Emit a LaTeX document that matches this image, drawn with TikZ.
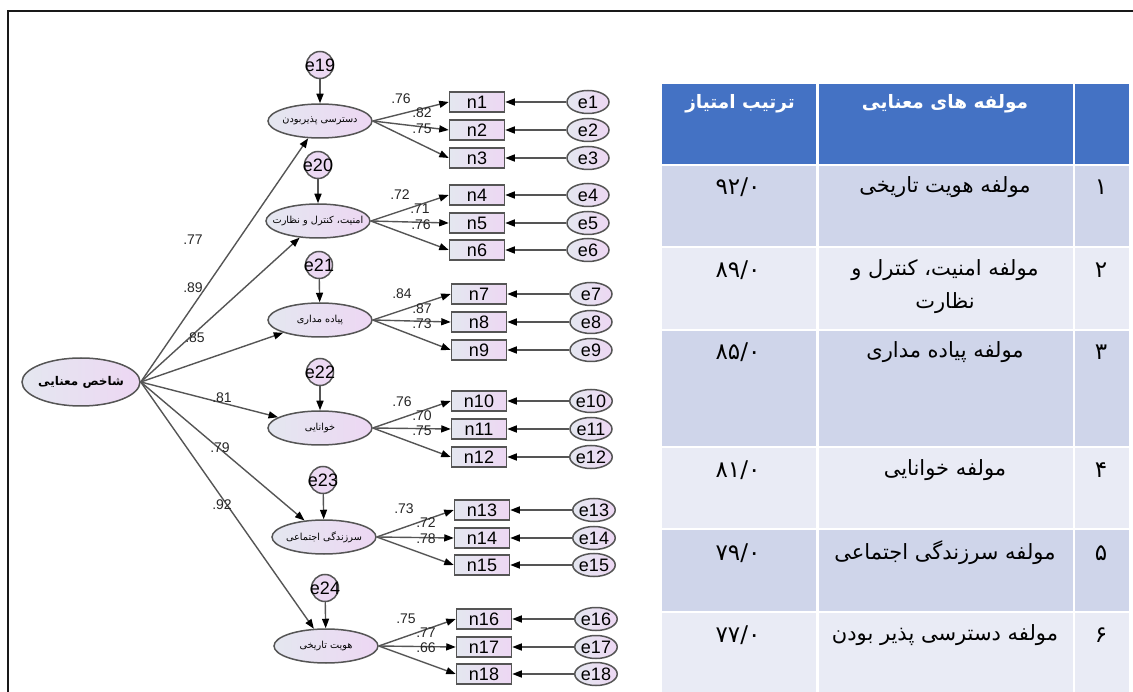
\documentclass[tikz,border=0pt]{standalone}
\usepackage{fontspec}
\setmainfont{Liberation Sans}
\newfontfamily\arabicfont[Script=Arabic]{DejaVu Sans}
\TeXXeTstate=1
\usetikzlibrary{arrows.meta, shapes.geometric}
\newcommand{\fa}[1]{\beginR#1\endR}
\definecolor{amosline}{HTML}{555555}
\definecolor{amosleft}{HTML}{E4E7F0}
\definecolor{amosright}{HTML}{EDD7F3}
\definecolor{headblue}{HTML}{4472C4}
\definecolor{rowdark}{HTML}{CFD5EA}
\definecolor{rowlight}{HTML}{E9EBF5}

\begin{document}
\begin{tikzpicture}[x=1pt, y=-1pt,
	amosfill/.style = {draw=amosline, line width=1.5pt, left color=amosleft, right color=amosright, inner sep=0pt},
	latent/.style = {amosfill, ellipse, minimum width=104pt, minimum height=34pt, font=\arabicfont\fontsize{9.7}{12}\selectfont},
	mainlatent/.style = {amosfill, ellipse, minimum width=118pt, minimum height=48pt, font=\arabicfont\bfseries\fontsize{12}{14}\selectfont},
	indicator/.style = {amosfill, rectangle, minimum width=55pt, minimum height=20pt, font=\fontsize{18}{18}\selectfont},
	errell/.style = {amosfill, ellipse, minimum width=42pt, minimum height=23pt, font=\fontsize{18}{18}\selectfont},
	errcirc/.style = {amosfill, circle, minimum size=27pt, left color=amosright!80!amosleft, font=\fontsize{18}{18}\selectfont},
	arrowline/.style = {draw=amosline, line width=1.4pt, -{Triangle[length=9.5pt, width=7pt, color=black]}},
	coef/.style = {text=black!85, font=\fontsize{14}{14}\selectfont, inner sep=0pt},
	tabtext/.style = {font=\arabicfont\fontsize{21}{33}\selectfont, align=center, inner sep=0pt},
	tabnum/.style = {font=\arabicfont\fontsize{23}{26}\selectfont, inner sep=0pt},
	tabhead/.style = {tabtext, text=white, font=\arabicfont\bfseries\fontsize{18.5}{24}\selectfont}
	]
	\useasboundingbox (0,0) rectangle (1133,692);
	\draw[black!90, line width=2.5pt] (8,692) -- (8,11) -- (1133,11);
	
	% table
	\fill[headblue] (662,84) rectangle (1129,165);
	\fill[rowdark] (662,165) rectangle (1129,247);
	\fill[rowlight] (662,247) rectangle (1129,330);
	\fill[rowdark] (662,330) rectangle (1129,447);
	\fill[rowlight] (662,447) rectangle (1129,529);
	\fill[rowdark] (662,529) rectangle (1129,612);
	\fill[rowlight] (662,612) rectangle (1129,692);
	\draw[white, line width=2.5pt] (817.5,84) -- (817.5,692) (1074,84) -- (1074,692);
	\draw[white, line width=2.5pt] (662,165) -- (1129,165) (662,247) -- (1129,247) (662,330) -- (1129,330)
		(662,447) -- (1129,447) (662,529) -- (1129,529) (662,612) -- (1129,612);
	
	\node[tabhead] (hscore) at (740,104) {\fa{ترتیب امتیاز}};
	\node[tabhead] (hname) at (945,104) {\fa{مولفه های معنایی}};
	\node[tabnum] (s1) at (738,187) {۹۲/۰};
	\node[tabtext] (f1) at (945,187) {\fa{مولفه هویت تاریخی}};
	\node[tabnum] (r1) at (1101,187) {۱};
	\node[tabnum] (s2) at (738,270) {۸۹/۰};
	\node[tabtext] (f2) at (945,287) {\fa{مولفه امنیت، کنترل و}\\\fa{نظارت}};
	\node[tabnum] (r2) at (1101,270) {۲};
	\node[tabnum] (s3) at (738,352) {۸۵/۰};
	\node[tabtext] (f3) at (945,352) {\fa{مولفه پیاده مداری}};
	\node[tabnum] (r3) at (1101,352) {۳};
	\node[tabnum] (s4) at (738,470) {۸۱/۰};
	\node[tabtext] (f4) at (945,470) {\fa{مولفه خوانایی}};
	\node[tabnum] (r4) at (1101,470) {۴};
	\node[tabnum] (s5) at (738,553) {۷۹/۰};
	\node[tabtext] (f5) at (945,553) {\fa{مولفه سرزندگی اجتماعی}};
	\node[tabnum] (r5) at (1101,553) {۵};
	\node[tabnum] (s6) at (738,635) {۷۷/۰};
	\node[tabtext] (f6) at (945,635) {\fa{مولفه دسترسی پذیر بودن}};
	\node[tabnum] (r6) at (1101,635) {۶};
	
	% model
	\node[mainlatent] (meaning) at (81,382) {\makebox[0pt]{\fa{شاخص معنایی}}};
	
	\node[latent] (access) at (320,121) {\makebox[0pt]{\fa{دسترسی پذیربودن}}};
	\node[latent] (security) at (318,221) {\makebox[0pt]{\fa{امنیت، کنترل و نظارت}}};
	\node[latent] (walk) at (320,320) {\makebox[0pt]{\fa{پیاده مداری}}};
	\node[latent] (legible) at (320,428) {\makebox[0pt]{\fa{خوانایی}}};
	\node[latent] (vital) at (324,537) {\makebox[0pt]{\fa{سرزندگی اجتماعی}}};
	\node[latent] (history) at (326,646) {\makebox[0pt]{\fa{هویت تاریخی}}};
	
	\node[errcirc] (e19) at (320,65) {\makebox[0pt]{e19}};
	\node[errcirc] (e20) at (318,165) {\makebox[0pt]{e20}};
	\node[errcirc] (e21) at (319,265) {\makebox[0pt]{e21}};
	\node[errcirc] (e22) at (320,372) {\makebox[0pt]{e22}};
	\node[errcirc] (e23) at (323,480) {\makebox[0pt]{e23}};
	\node[errcirc] (e24) at (325,588) {\makebox[0pt]{e24}};
	
	\node[indicator] (n1) at (477,102) {n1};
	\node[indicator] (n2) at (477,130) {n2};
	\node[indicator] (n3) at (477,158) {n3};
	\node[indicator] (n4) at (477,195) {n4};
	\node[indicator] (n5) at (477,223) {n5};
	\node[indicator] (n6) at (477,250) {n6};
	\node[indicator] (n7) at (479,294) {n7};
	\node[indicator] (n8) at (479,322) {n8};
	\node[indicator] (n9) at (479,350) {n9};
	\node[indicator] (n10) at (479,401) {n10};
	\node[indicator] (n11) at (479,429) {n11};
	\node[indicator] (n12) at (479,457) {n12};
	\node[indicator] (n13) at (482,510) {n13};
	\node[indicator] (n14) at (482,538) {n14};
	\node[indicator] (n15) at (482,565) {n15};
	\node[indicator] (n16) at (484,619) {n16};
	\node[indicator] (n17) at (484,647) {n17};
	\node[indicator] (n18) at (484,674) {n18};
	
	\node[errell] (e1) at (588,102) {e1};
	\node[errell] (e2) at (588,130) {e2};
	\node[errell] (e3) at (588,158) {e3};
	\node[errell] (e4) at (588,195) {e4};
	\node[errell] (e5) at (588,223) {e5};
	\node[errell] (e6) at (588,250) {e6};
	\node[errell] (e7) at (591,294) {e7};
	\node[errell] (e8) at (591,322) {e8};
	\node[errell] (e9) at (591,350) {e9};
	\node[errell] (e10) at (591,401) {e10};
	\node[errell] (e11) at (591,429) {e11};
	\node[errell] (e12) at (591,457) {e12};
	\node[errell] (e13) at (594,510) {e13};
	\node[errell] (e14) at (594,538) {e14};
	\node[errell] (e15) at (594,565) {e15};
	\node[errell] (e16) at (596,619) {e16};
	\node[errell] (e17) at (596,647) {e17};
	\node[errell] (e18) at (596,674) {e18};
	
	\draw[arrowline] (meaning.east) -- (access);
	\draw[arrowline] (meaning.east) -- (security);
	\draw[arrowline] (meaning.east) -- (walk);
	\draw[arrowline] (meaning.east) -- (legible);
	\draw[arrowline] (meaning.east) -- (vital);
	\draw[arrowline] (meaning.east) -- (history);
	
	\draw[arrowline] (e19) -- (access);
	\draw[arrowline] (e20) -- (security);
	\draw[arrowline] (e21) -- (walk);
	\draw[arrowline] (e22) -- (legible);
	\draw[arrowline] (e23) -- (vital);
	\draw[arrowline] (e24) -- (history);
	
	\draw[arrowline] (access.east) -- (n1.west);
	\draw[arrowline] (access.east) -- (n2.west);
	\draw[arrowline] (access.east) -- (n3.west);
	\draw[arrowline] (security.east) -- (n4.west);
	\draw[arrowline] (security.east) -- (n5.west);
	\draw[arrowline] (security.east) -- (n6.west);
	\draw[arrowline] (walk.east) -- (n7.west);
	\draw[arrowline] (walk.east) -- (n8.west);
	\draw[arrowline] (walk.east) -- (n9.west);
	\draw[arrowline] (legible.east) -- (n10.west);
	\draw[arrowline] (legible.east) -- (n11.west);
	\draw[arrowline] (legible.east) -- (n12.west);
	\draw[arrowline] (vital.east) -- (n13.west);
	\draw[arrowline] (vital.east) -- (n14.west);
	\draw[arrowline] (vital.east) -- (n15.west);
	\draw[arrowline] (history.east) -- (n16.west);
	\draw[arrowline] (history.east) -- (n17.west);
	\draw[arrowline] (history.east) -- (n18.west);
	
	\draw[arrowline] (e1.west) -- (n1.east);
	\draw[arrowline] (e2.west) -- (n2.east);
	\draw[arrowline] (e3.west) -- (n3.east);
	\draw[arrowline] (e4.west) -- (n4.east);
	\draw[arrowline] (e5.west) -- (n5.east);
	\draw[arrowline] (e6.west) -- (n6.east);
	\draw[arrowline] (e7.west) -- (n7.east);
	\draw[arrowline] (e8.west) -- (n8.east);
	\draw[arrowline] (e9.west) -- (n9.east);
	\draw[arrowline] (e10.west) -- (n10.east);
	\draw[arrowline] (e11.west) -- (n11.east);
	\draw[arrowline] (e12.west) -- (n12.east);
	\draw[arrowline] (e13.west) -- (n13.east);
	\draw[arrowline] (e14.west) -- (n14.east);
	\draw[arrowline] (e15.west) -- (n15.east);
	\draw[arrowline] (e16.west) -- (n16.east);
	\draw[arrowline] (e17.west) -- (n17.east);
	\draw[arrowline] (e18.west) -- (n18.east);
	
	\node[coef] (b1) at (193,240) {.77};
	\node[coef] (b2) at (193,288) {.89};
	\node[coef] (b3) at (195,338) {.85};
	\node[coef] (b4) at (222,398) {.81};
	\node[coef] (b5) at (220,448) {.79};
	\node[coef] (b6) at (222,505) {.92};
	
	\node[coef] (l1) at (401,99) {.76};
	\node[coef] (l2) at (422,113) {.82};
	\node[coef] (l3) at (422,129) {.75};
	\node[coef] (l4) at (400,195) {.72};
	\node[coef] (l5) at (420,209) {.71};
	\node[coef] (l6) at (421,225) {.76};
	\node[coef] (l7) at (402,294) {.84};
	\node[coef] (l8) at (422,309) {.87};
	\node[coef] (l9) at (422,324) {.73};
	\node[coef] (l10) at (402,402) {.76};
	\node[coef] (l11) at (422,416) {.70};
	\node[coef] (l12) at (422,431) {.75};
	\node[coef] (l13) at (404,509) {.73};
	\node[coef] (l14) at (426,523) {.72};
	\node[coef] (l15) at (426,539) {.78};
	\node[coef] (l16) at (406,619) {.75};
	\node[coef] (l17) at (426,633) {.77};
	\node[coef] (l18) at (426,648) {.66};
\end{tikzpicture}
\end{document}
